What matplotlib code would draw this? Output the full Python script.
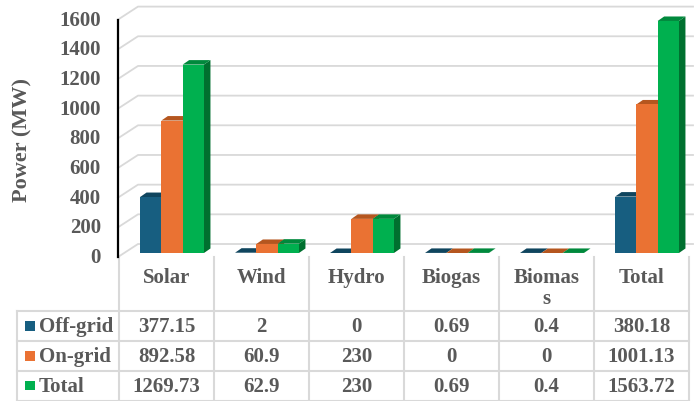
import matplotlib
matplotlib.use("Agg")
import matplotlib.pyplot as plt
from matplotlib.patches import Polygon, Rectangle
from matplotlib.transforms import offset_copy, blended_transform_factory

# ---- data ----
categories = ["Solar", "Wind", "Hydro", "Biogas", "Biomas\ns", "Total"]
series_names = ["Off-grid", "On-grid", "Total"]
off_grid = [377.15, 2, 0, 0.69, 0.4, 380.18]
on_grid = [892.58, 60.9, 230, 0, 0, 1001.13]
total = [1269.73, 62.9, 230, 0.69, 0.4, 1563.72]
y_ticks = [0, 200, 400, 600, 800, 1000, 1200, 1400, 1600]

series = [off_grid, on_grid, total]
front_cols = ["#175E80", "#EA7233", "#00B04F"]
top_cols = ["#0F455E", "#B5561F", "#00893C"]
side_cols = ["#0E3F57", "#A84F1C", "#00702F"]
text_col = "#595959"
grid_col = "#D9D9D9"
FONT = "Liberation Serif"

W, H = 696, 402
fig = plt.figure(figsize=(W / 100, H / 100), dpi=100)

# plot area (front plane of the columns)
x_left, x_right = 119, 689
y_zero, plot_h = 254, 237.4
ax = fig.add_axes([x_left / W, (H - y_zero) / H, (x_right - x_left) / W, plot_h / H])
ax.set_xlim(-0.5, len(categories) - 0.5)
ax.set_ylim(0, 1600)
ax.axis("off")

# overlay in pixel units for the data table
tab = fig.add_axes([0, 0, 1, 1], zorder=-1)
tab.set_xlim(0, W)
tab.set_ylim(H, 0)
tab.axis("off")

px = (len(categories)) / (x_right - x_left)  # x data units per pixel
py = 1600 / plot_h                            # y data units per pixel

# back wall gridlines with the floor diagonal on the left
for v in y_ticks:
    ax.plot([-0.5 - 1 * px, -0.5 + 19 * px, len(categories) - 0.5 + 4 * px],
            [v - 4 * py, v + 9 * py, v + 9 * py],
            color=grid_col, lw=1.3, clip_on=False, zorder=1)

# value axis line and labels
ytr = offset_copy(ax.get_yaxis_transform(), fig=fig, x=-1, y=-4, units="dots")
ax.plot([0, 0], [0, 1600], color="black", lw=1.6, transform=ytr, clip_on=False, zorder=3)
lab_tr = offset_copy(ax.get_yaxis_transform(), fig=fig, x=-18, y=-4, units="dots")
for v in y_ticks:
    ax.text(0, v, f"{v}", transform=lab_tr, ha="right", va="center",
            fontsize=15, fontweight="bold", family=FONT, color=text_col)

fig.text(22 / W, 1 - 140 / H, "Power (MW)", rotation=90, ha="center", va="center",
         fontsize=16, fontweight="bold", family=FONT, color=text_col)

# 3D-style columns
bw = 21.3 * px
shift = 5.5 * px
dx, dy = 6.5 * px, 4.5 * py
for i in range(len(categories)):
    for k, vals in enumerate(series):
        v = vals[i]
        x0 = i + shift + (k - 1.5) * bw
        x1 = x0 + bw
        z = 4 + i * 0.1 + k * 0.01
        side = Polygon([(x1, 0), (x1, v), (x1 + dx, v + dy), (x1 + dx, dy)],
                       closed=True, facecolor=side_cols[k], edgecolor="none",
                       zorder=z, clip_on=False)
        top = Polygon([(x0, v), (x1, v), (x1 + dx, v + dy), (x0 + dx, v + dy)],
                      closed=True, facecolor=top_cols[k], edgecolor="none",
                      zorder=z, clip_on=False)
        ax.add_patch(side)
        ax.add_patch(top)
        ax.add_patch(Rectangle((x0, 0), bw, v, facecolor=front_cols[k],
                               edgecolor="none", zorder=z + 0.005, clip_on=False))

# ---- data table ----
col_lines = [x_left + 95 * j for j in range(len(categories) + 1)]
row_lines = [312, 342, 372, 401.5]
lc = dict(color=grid_col, lw=1.5)
for x in col_lines:
    tab.plot([x, x], [258, row_lines[-1]], **lc)
tab.plot([17, 17], [row_lines[0], row_lines[-1]], **lc)
for y in row_lines:
    tab.plot([17, col_lines[-1]], [y, y], **lc)

ctr = blended_transform_factory(ax.transData, tab.transData)
tkw = dict(fontsize=15, fontweight="bold", family=FONT, color=text_col)
for i, c in enumerate(categories):
    ax.text(i, 268, c, transform=ctr, ha="center", va="top", linespacing=1.05, **tkw)

for r, (name, vals) in enumerate(zip(series_names, series)):
    yc = (row_lines[r] + row_lines[r + 1]) / 2
    tab.add_patch(Rectangle((25, yc - 5), 9.5, 9.5, facecolor=front_cols[r], edgecolor="none"))
    tab.text(39, yc, name, ha="left", va="center", **tkw)
    for i, v in enumerate(vals):
        ax.text(i, yc, f"{v:g}", transform=ctr, ha="center", va="center", **tkw)

fig.savefig("out.png", dpi=100)
